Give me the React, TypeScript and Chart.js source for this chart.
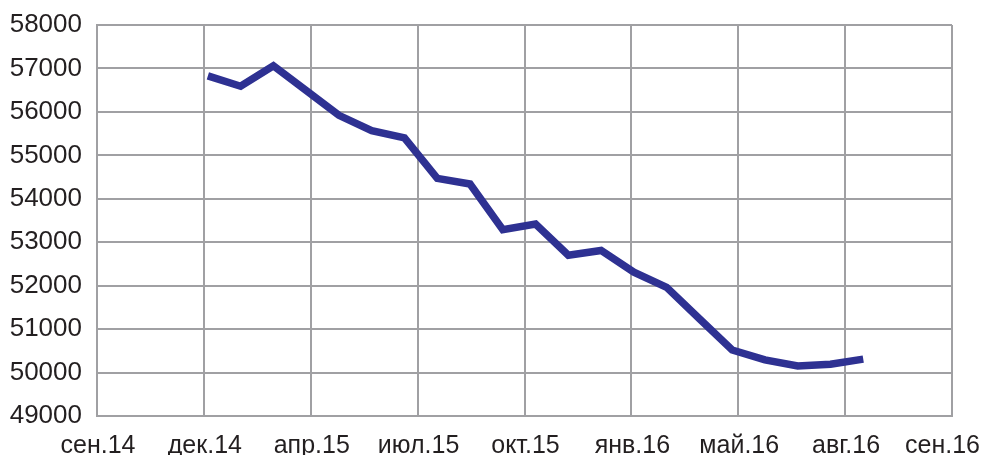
import React, { useEffect, useRef } from "react";
import { Chart, registerables } from "chart.js";

Chart.register(...registerables);

// Monthly observations, Dec 2014 .. Aug 2016
const MONTHS = [
  "дек.14", "янв.15", "фев.15", "мар.15", "апр.15", "май.15", "июн.15",
  "июл.15", "авг.15", "сен.15", "окт.15", "ноя.15", "дек.15", "янв.16",
  "фев.16", "мар.16", "апр.16", "май.16", "июн.16", "июл.16", "авг.16",
];
const VALUES = [
  56830, 56590, 57060, 56490, 55920, 55570, 55400, 54470, 54340, 53290,
  53420, 52700, 52810, 52310, 51960, 51240, 50520, 50290, 50150, 50190, 50310,
];

// Axis labels (date axis, 9 evenly spaced major ticks)
const X_LABELS = ["сен.14", "дек.14", "апр.15", "июл.15", "окт.15", "янв.16", "май.16", "авг.16", "сен.16"];
const X_AXIS_MIN = -3.383; // in months relative to дек.14 data point
const X_AXIS_STEP = 3.2614; // months between major ticks

const Y_MIN = 49000;
const Y_MAX = 58000;
const Y_STEP = 1000;

const FONT_FAMILY = '"Liberation Sans", Arial, Helvetica, sans-serif';
const TEXT_COLOR = "#231f20";
const GRID_COLOR = "#a0a0a3";
const LINE_COLOR = "#2e3192";

const xLabelPlugin = {
  id: "xLabelPlugin",
  afterDraw(chart: any) {
    const { ctx, chartArea } = chart;
    const x = chart.scales.x;
    ctx.save();
    ctx.font = `25px ${FONT_FAMILY}`;
    ctx.fillStyle = TEXT_COLOR;
    ctx.textBaseline = "middle";
    ctx.textAlign = "left";
    x.ticks.forEach((t: any, i: number) => {
      const label = X_LABELS[i];
      if (!label) return;
      const w = ctx.measureText(label).width;
      let px = x.getPixelForValue(t.value) - w / 2 + 1;
      px = Math.min(px, chart.width - 6 - w);
      ctx.fillText(label, px, chartArea.bottom + 30);
    });
    ctx.restore();
  },
};

export default function App() {
  const ref = useRef<HTMLCanvasElement | null>(null);

  useEffect(() => {
    if (!ref.current) return;
    const data = VALUES.map((v, i) => ({ x: i, y: v }));
    const chart = new Chart(ref.current, {
      type: "line",
      data: {
        labels: MONTHS,
        datasets: [
          {
            data,
            borderColor: LINE_COLOR,
            backgroundColor: LINE_COLOR,
            borderWidth: 7.5,
            pointRadius: 0,
            tension: 0,
            fill: false,
            borderJoinStyle: "miter",
            borderCapStyle: "butt",
          },
        ],
      },
      options: {
        animation: false,
        responsive: false,
        maintainAspectRatio: false,
        layout: { padding: { top: 25, right: 34, left: 0, bottom: 0 } },
        plugins: { legend: { display: false }, tooltip: { enabled: false } },
        scales: {
          x: {
            type: "linear",
            min: X_AXIS_MIN,
            max: X_AXIS_MIN + X_AXIS_STEP * (X_LABELS.length - 1),
            afterBuildTicks: (scale: any) => {
              scale.ticks = X_LABELS.map((_, i) => ({ value: X_AXIS_MIN + i * X_AXIS_STEP }));
            },
            afterFit: (scale: any) => {
              scale.height = 54;
              scale.paddingLeft = 0;
              scale.paddingRight = 0;
            },
            ticks: { display: false, autoSkip: false },
            grid: { color: GRID_COLOR, lineWidth: 2, drawTicks: false },
            border: { display: true, color: GRID_COLOR, width: 2 },
          },
          y: {
            min: Y_MIN,
            max: Y_MAX,
            afterFit: (scale: any) => {
              scale.width = 97;
              scale.paddingTop = 0;
              scale.paddingBottom = 0;
            },
            ticks: {
              stepSize: Y_STEP,
              padding: 15,
              color: TEXT_COLOR,
              font: { family: FONT_FAMILY, size: 26 },
              callback: (v: any) => String(v),
            },
            grid: { color: GRID_COLOR, lineWidth: 2, drawTicks: false },
            border: { display: true, color: GRID_COLOR, width: 2 },
          },
        },
      },
      plugins: [xLabelPlugin],
    } as any);
    return () => chart.destroy();
  }, []);

  return (
    <div style={{ position: "absolute", left: 0, top: 0, width: 986, height: 455, overflow: "hidden", background: "#fff" }}>
      <canvas ref={ref} width={986} height={470} style={{ display: "block" }} />
    </div>
  );
}
